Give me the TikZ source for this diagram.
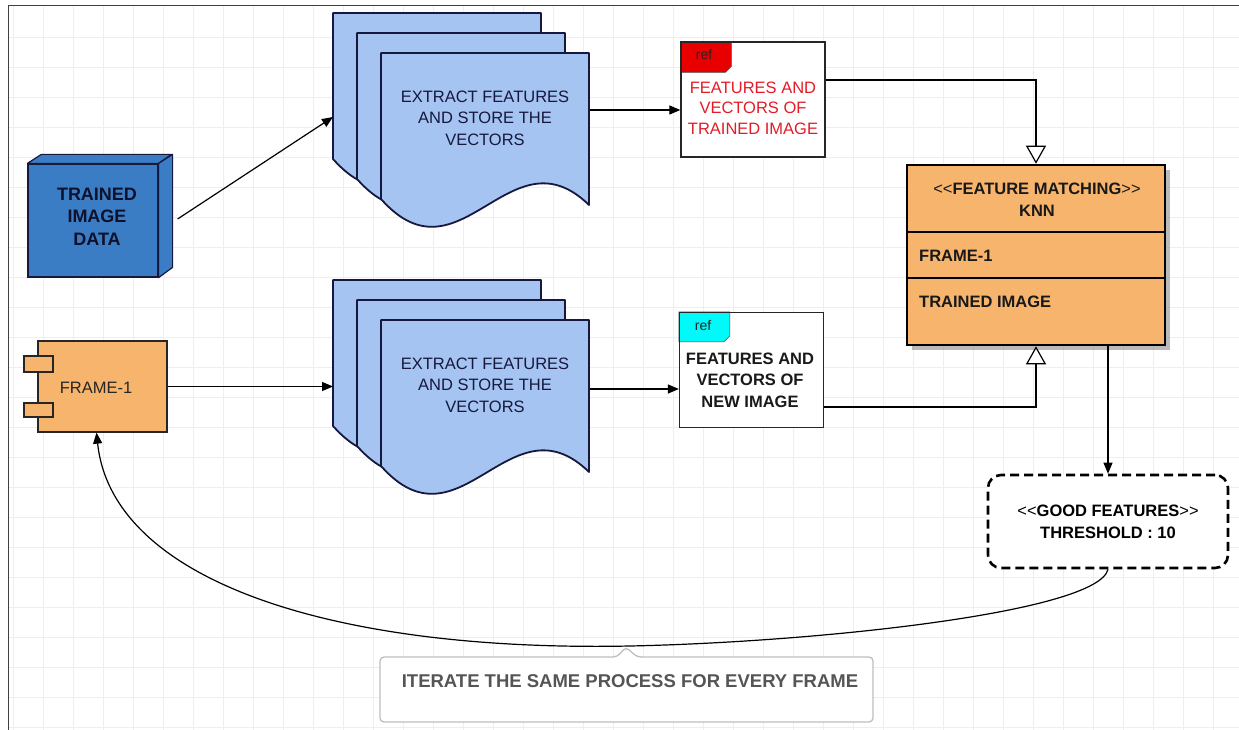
\documentclass[tikz,border=0pt]{standalone}
\usepackage{fontspec}
\setmainfont{Liberation Sans}
\usetikzlibrary{arrows.meta,shadows}
\definecolor{tblue}{RGB}{58,125,196}
\definecolor{docblue}{RGB}{166,196,242}
\definecolor{orng}{RGB}{246,180,108}
\definecolor{refred}{RGB}{232,0,0}
\definecolor{refcyan}{RGB}{0,250,250}
\definecolor{redtxt}{RGB}{228,28,40}
\definecolor{navy}{RGB}{22,24,62}
\definecolor{gridc}{RGB}{238,238,238}
\definecolor{callg}{RGB}{190,190,190}
\definecolor{callt}{RGB}{85,85,85}
\begin{document}
\begin{tikzpicture}[x=1pt,y=-1pt,
  arr/.style={line width=1.2pt,-{Triangle[length=11pt,width=9pt]}},
  gen/.style={line width=1.2pt,-{Triangle[open,length=18pt,width=20pt,fill=white]}},
  docst/.style={draw=navy,line width=1.8pt,fill=docblue,line join=round},
  docpic/.pic={\path[docst] (0,0) -- (208,0) -- (208,152) .. controls (129,75) and (79,235) .. (0,146) -- cycle;},
  inv/.style={inner sep=0pt,outer sep=0pt},
  tbox/.style={draw=navy,line width=1.2pt,fill=tblue,minimum width=130pt,minimum height=113pt},
  tface/.style={draw=navy,line width=1.2pt,fill=tblue,line join=round},
  comp/.style={draw=black!85,line width=1.3pt,fill=orng,minimum width=129pt,minimum height=91pt},
  compsmall/.style={draw=black!85,line width=1.3pt,fill=orng},
  doctxt/.style={align=center,font=\fontsize{16.5}{21.5}\selectfont,text=navy},
  refbox/.style={draw=black!85,line width=1.3pt,fill=white,minimum width=144pt,minimum height=115pt},
  tab/.style={draw=black!70,line width=0.6pt,line join=round},
  reflbl/.style={font=\fontsize{14}{16}\selectfont,text=black!85},
  classbox/.style={draw=black,line width=2.6pt,fill=orng,minimum width=258pt,minimum height=180pt,
    drop shadow={shadow xshift=5pt,shadow yshift=-5pt,fill=black!45,opacity=0.6}},
  bold/.style={font=\fontsize{16.5}{21.5}\selectfont\bfseries,text=black!90},
  goodbox/.style={draw=black,line width=2.6pt,dash pattern=on 9pt off 5pt,rounded corners=13pt,fill=white,
    minimum width=240pt,minimum height=93pt,align=center,font=\fontsize{16.5}{22}\selectfont\bfseries},
  callst/.style={draw=callg,line width=1.3pt,fill=white,rounded corners=4pt},
]
\useasboundingbox (0,0) rectangle (1239,730);
% grid
\foreach \x in {13,43,...,1239} \draw[gridc,line width=0.6pt] (\x,6) -- (\x,730);
\foreach \y in {37,67,...,730} \draw[gridc,line width=0.6pt] (8,\y) -- (1239,\y);
\draw[black!75,line width=1pt] (8,730) -- (8,6) -- (1239,6);

% trained image data (3D box)
\node[tbox] (trained) at (93,220.5) {};
\draw[tface] (trained.north west) -- ++(14,-9) -- ++(130,0) -- (trained.north east) -- cycle;
\draw[tface] (trained.north east) -- ++(14,-9) -- ++(0,113) -- (trained.south east) -- cycle;
\node[align=center,font=\fontsize{18}{22.5}\selectfont\bfseries,text=navy!70!black] (trainedtxt) at (97,216.5) {TRAINED\\IMAGE\\DATA};

% frame-1 component
\node[comp] (frame) at (102.5,386.5) {};
\draw[compsmall] (24,356) rectangle (53,372);
\draw[compsmall] (24,403) rectangle (53,417);
\node[font=\fontsize{16.5}{20}\selectfont,text=black!85] (frametxt) at (96,388) {FRAME-1};

% document stacks
\pic at (333,13) {docpic};
\pic at (357,33) {docpic};
\pic at (381,53) {docpic};
\node[inv,minimum width=257pt,minimum height=208pt] (docA) at (461.5,117) {};
\node[doctxt] (txtA) at (485,118) {EXTRACT FEATURES\\AND STORE THE\\VECTORS};

\pic at (333,280) {docpic};
\pic at (357,300) {docpic};
\pic at (381,320) {docpic};
\node[inv,minimum width=257pt,minimum height=208pt] (docB) at (461.5,384) {};
\node[doctxt] (txtB) at (485,385) {EXTRACT FEATURES\\AND STORE THE\\VECTORS};

% ref boxes
\node[refbox] (refA) at (753,99.5) {};
\path[tab,fill=refred] (refA.north west) -- ++(51,0) -- ++(0,25) -- ++(-6,6) -- ++(-45,0) -- cycle;
\node[refbox,fill=none] at (refA) {};
\node[reflbl] (refAlbl) at (704,55) {ref};
\node[align=center,font=\fontsize{16.5}{20.5}\selectfont,text=redtxt] (refAtxt) at (753,108) {FEATURES AND\\VECTORS OF\\TRAINED IMAGE};

\node[refbox] (refB) at (751.5,370) {};
\path[tab,fill=refcyan] (refB.north west) -- ++(51,0) -- ++(0,24) -- ++(-6,6) -- ++(-45,0) -- cycle;
\node[refbox,fill=none] at (refB) {};
\node[reflbl] (refBlbl) at (703,326) {ref};
\node[align=center,bold] (refBtxt) at (750,380) {FEATURES AND\\VECTORS OF\\NEW IMAGE};

% feature matching class
\node[classbox] (knn) at (1036,255) {};
\draw[line width=2.2pt] (knn.west |- 0,232) -- (knn.east |- 0,232);
\draw[line width=2.2pt] (knn.west |- 0,278) -- (knn.east |- 0,278);
\node[bold,align=center] (knnhead) at (1037,199.5) {\textmd{<\kern0pt<}FEATURE MATCHING\textmd{>\kern0pt>}\\KNN};
\node[bold,anchor=west,inner sep=0pt] (knnf) at (919,256) {FRAME-1};
\node[bold,anchor=west,inner sep=0pt] (knnt) at (919,302) {TRAINED IMAGE};

% good features
\node[goodbox] (good) at (1108,521.5) {\textmd{<\kern0pt<}GOOD FEATURES\textmd{>\kern0pt>}\\THRESHOLD : 10};

% callout
\draw[callst] (380,657) -- (617,657) -- (626,647) -- (637,657) -- (873,657) -- (873,722) -- (380,722) -- cycle;
\node[font=\fontsize{18.5}{22}\selectfont\bfseries,text=callt] (iter) at (630,681) {ITERATE THE SAME PROCESS FOR EVERY FRAME};

% connectors
\draw[arr] ([xshift=19pt,yshift=1.5pt]trained.east) -- (docA.west);
\draw[arr] ([yshift=7pt]docA.east) -- ([yshift=7pt]docA.east -| refA.west);
\draw[arr] (frame.east) -- (frame.east -| docB.west);
\draw[arr] ([yshift=-5pt]docB.east) -- ([yshift=-5pt]docB.east -| refB.west);
\draw[gen] ([yshift=19.5pt]refA.east) -| (knn.north);
\draw[gen] ([yshift=-37pt]refB.east) -| (knn.south);
\draw[arr] (knn.south -| good.north) -- (good.north);
\draw[arr] (good.south) .. controls (1098,612) and (820,642) .. (630,646)
  .. controls (330,652) and (112,580) .. ([xshift=-6pt]frame.south);
\end{tikzpicture}
\end{document}
